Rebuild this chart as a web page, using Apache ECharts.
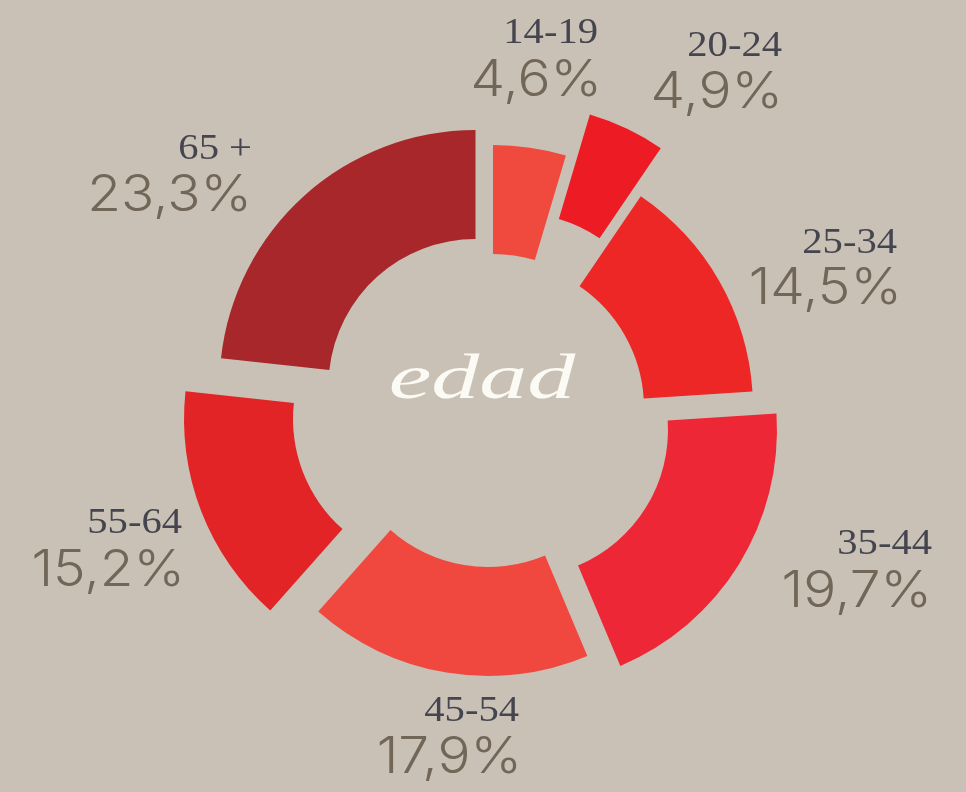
<!DOCTYPE html>
<html>
<head>
<meta charset="utf-8">
<script src="https://cdn.jsdelivr.net/npm/echarts@6/dist/echarts.min.js"></script>
<style>
  html, body { margin: 0; padding: 0; background: #c9c1b5; }
  #chart { width: 966px; height: 792px; }
</style>
</head>
<body>
<div id="chart"></div>
<script>
const categories = ["14-19", "20-24", "25-34", "35-44", "45-54", "55-64", "65 +"];
const values = [4.6, 4.9, 14.5, 19.7, 17.9, 15.2, 23.3];

// every slice sits on its own centre, so the gaps are uneven like the print
const sliceCenters = [
  [493, 401], [517, 360], [497, 408], [521, 430],
  [488, 420], [440, 419], [475.5, 386]
];
const sliceColors = ["#f0493e", "#ed1c24", "#ed2726", "#ee2737", "#f0483e", "#e22426", "#a8272a"];

// [name right x, name mid y, value right x, value mid y]
const labelSpots = [
  [598, 34, 602, 81],
  [782, 47, 783, 93],
  [897, 244, 902, 289],
  [932, 545, 932, 592],
  [519, 712, 522, 758],
  [182, 524, 185, 571],
  [252, 150, 252, 196]
];

const fmt = (v) => v.toFixed(1).replace(".", ",") + "%";

const chart = echarts.init(document.getElementById("chart"));

const series = categories.map((name, i) => ({
  type: "pie",
  center: sliceCenters[i],
  radius: [147, 256],
  startAngle: 90,
  clockwise: true,
  silent: true,
  animation: false,
  label: { show: false },
  labelLine: { show: false },
  emphasis: { disabled: true },
  data: categories.map((c, j) => ({
    name: c,
    value: values[j],
    itemStyle: { color: j === i ? sliceColors[i] : "transparent", borderWidth: 0 }
  }))
}));

const texts = [];
categories.forEach((name, i) => {
  const p = labelSpots[i];
  texts.push({
    type: "text", x: p[0], y: p[1], scaleX: 1.16, silent: true,
    style: {
      text: name, align: "right", verticalAlign: "middle",
      font: "35px 'Liberation Serif'", fill: "#45454f"
    }
  });
  texts.push({
    type: "text", x: p[2], y: p[3], scaleX: 1.1, silent: true,
    style: {
      text: fmt(values[i]), align: "right", verticalAlign: "middle",
      font: "300 50px Inter", fill: "#716658"
    }
  });
});
texts.push({
  type: "text", x: 482, y: 381, scaleX: 1.5, silent: true,
  style: {
    text: "edad", align: "center", verticalAlign: "middle",
    font: "italic 64px 'Liberation Serif'", fill: "#fcfaf5"
  }
});

chart.setOption({
  backgroundColor: "#c9c1b5",
  animation: false,
  series,
  graphic: texts
});
</script>
</body>
</html>
